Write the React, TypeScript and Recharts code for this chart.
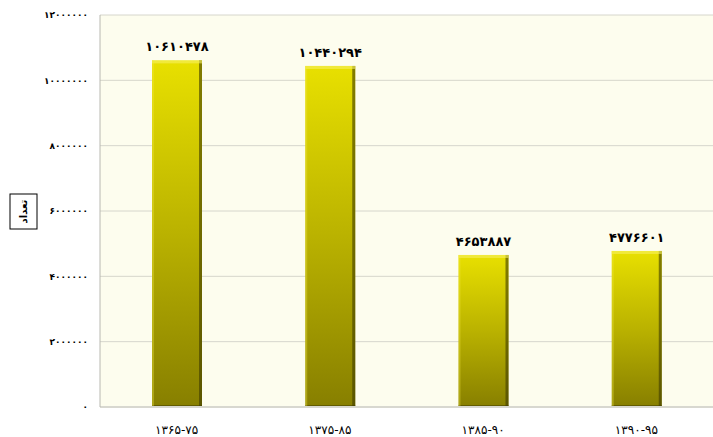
import React from "react";
import { BarChart, Bar, XAxis, YAxis, CartesianGrid, LabelList, Label } from "recharts";

const categories = ["۱۳۶۵-۷۵", "۱۳۷۵-۸۵", "۱۳۸۵-۹۰", "۱۳۹۰-۹۵"];
const values = [10610478, 10440294, 4653887, 4776601];
const yTicks = [0, 2000000, 4000000, 6000000, 8000000, 10000000, 12000000];
const yLabel = "تعداد";

const data = categories.map((c, i) => ({ name: c, value: values[i] }));

const fa = (v: number | string) =>
  String(v).replace(/[0-9]/g, (d) => "۰۱۲۳۴۵۶۷۸۹"[Number(d)]);

const BevelBar = (props: any) => {
  const { x, y, width, height } = props;
  if (!height || height <= 0) return null;
  return (
    <g>
      <rect x={x} y={y} width={width} height={height} fill="url(#barGrad)" />
      <rect x={x + width - 3} y={y} width={3} height={height} fill="#3e3a00" opacity={0.6} />
      <rect x={x} y={y + height - 2} width={width} height={2} fill="#3e3a00" opacity={0.5} />
      <rect x={x} y={y} width={width} height={3} fill="#f6f060" opacity={0.6} />
      <rect x={x} y={y} width={2} height={height} fill="#f0e840" opacity={0.35} />
    </g>
  );
};

export default function App() {
  return (
    <div style={{ position: "absolute", left: 0, top: 0, background: "#fff" }}>
      <BarChart
        width={713}
        height={437}
        data={data}
        margin={{ top: 15, right: 0, bottom: 0, left: 0 }}
        barSize={50}
      >
        <defs>
          <linearGradient id="barGrad" x1="0" y1="0" x2="0" y2="1">
            <stop offset="0%" stopColor="#e8e000" />
            <stop offset="50%" stopColor="#bab200" />
            <stop offset="100%" stopColor="#877f00" />
          </linearGradient>
        </defs>
        <CartesianGrid vertical={false} fill="#fdfdee" stroke="#d6d6cc" />
        <XAxis
          dataKey="name"
          height={30}
          tickLine={false}
          axisLine={{ stroke: "#d8d8d0", strokeWidth: 2 }}
          tick={{ fill: "#000", fontSize: 12, fontFamily: "DejaVu Sans" }}
          tickMargin={12}
        />
        <YAxis
          width={100}
          domain={[0, 12000000]}
          ticks={yTicks}
          tickFormatter={fa}
          tickLine={false}
          axisLine={{ stroke: "#b8b8b0", strokeWidth: 1 }}
          tick={{ fill: "#000", fontSize: 9, fontWeight: "bold", fontFamily: "DejaVu Sans" }}
          tickMargin={6}
          interval={0}
        >
          <Label
            content={() => (
              <g>
                <rect x={10} y={194} width={27} height={35} fill="#fff" stroke="#000" strokeWidth={1} />
                <text
                  x={23.5}
                  y={211.5}
                  transform="rotate(-90 23.5 211.5)"
                  textAnchor="middle"
                  dominantBaseline="central"
                  fontSize={10}
                  fontWeight="bold"
                  fontFamily="DejaVu Sans"
                  fill="#000"
                >
                  {yLabel}
                </text>
              </g>
            )}
          />
        </YAxis>
        <Bar dataKey="value" shape={<BevelBar />} isAnimationActive={false}>
          <LabelList
            dataKey="value"
            position="top"
            offset={9}
            formatter={fa}
            style={{ fill: "#000", fontSize: 13, fontWeight: "bold", fontFamily: "DejaVu Sans" }}
          />
        </Bar>
      </BarChart>
    </div>
  );
}
